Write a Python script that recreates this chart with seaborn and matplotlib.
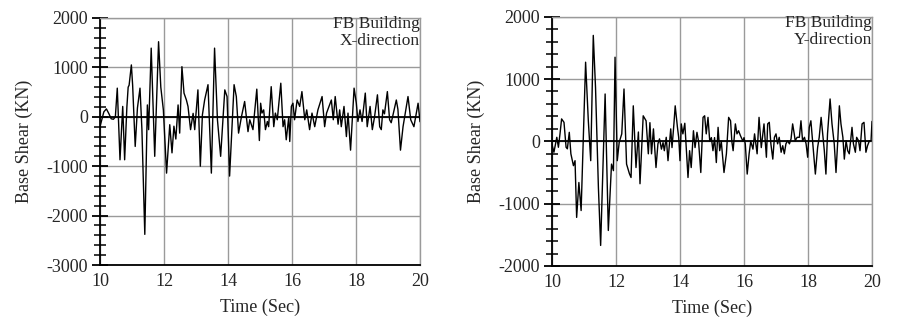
import numpy as np
import pandas as pd
import matplotlib
matplotlib.use("Agg")
import matplotlib.pyplot as plt
from matplotlib.ticker import MultipleLocator
import seaborn as sns

# ---- data ----
x_time = [10.00, 10.12, 10.20, 10.28, 10.35, 10.42, 10.48, 10.54, 10.625, 10.71, 10.77, 10.84, 10.88, 10.91,
          10.98, 11.02, 11.10, 11.17, 11.25, 11.31, 11.40, 11.48, 11.52, 11.60, 11.71, 11.83, 11.90, 11.98,
          12.08, 12.18, 12.25, 12.31, 12.37, 12.44, 12.49, 12.56, 12.625, 12.70, 12.75, 12.83, 12.91, 12.96,
          13.06, 13.135, 13.20, 13.27, 13.375, 13.48, 13.58, 13.67, 13.77, 13.90, 13.97, 14.05, 14.19, 14.26,
          14.33, 14.42, 14.52, 14.625, 14.68, 14.78, 14.90, 14.98, 15.02, 15.06, 15.115, 15.17, 15.23, 15.27,
          15.35, 15.43, 15.48, 15.54, 15.65, 15.72, 15.77, 15.82, 15.90, 15.93, 15.98, 16.03, 16.08, 16.16,
          16.24, 16.31, 16.40, 16.46, 16.55, 16.625, 16.71, 16.81, 16.94, 17.02, 17.08, 17.23, 17.29, 17.35,
          17.44, 17.49, 17.54, 17.625, 17.70, 17.75, 17.83, 17.94, 18.01, 18.06, 18.125, 18.19, 18.29, 18.35,
          18.44, 18.51, 18.58, 18.67, 18.74, 18.79, 18.84, 18.89, 18.98, 19.05, 19.10, 19.15, 19.26, 19.31,
          19.39, 19.47, 19.52, 19.625, 19.71, 19.81, 19.94, 20.00]
x_shear = [-200, 100, 160, 60, -40, -50, 0, 580, -870, 210, -870, 200, 600, 640,
           1050, 640, -600, 180, 580, -260, -2380, 240, -260, 1390, -800, 1520, 600, 140,
           -1140, -160, -730, -190, -450, 240, -330, 1015, 480, 340, 210, -260, 70, -260,
           545, -1000, 40, 340, 650, -1140, 1390, -60, -800, 545, 410, -1200, 650, 410,
           -330, 0, 310, -300, -60, -260, 560, -480, 275, 75, 140, -260, -95, -200,
           610, -200, 75, -60, 680, -200, -60, -465, 0, -500, 210, 275, -60, 340,
           210, 510, -60, 140, -260, 75, -200, 140, 410, -200, 75, 340, -60, 410,
           -150, 140, -200, 210, -400, 75, -675, 580, 275, -95, 140, -95, 480, -200,
           210, -260, 0, 445, -200, -260, 140, 60, 510, -60, -120, 20, 340, 150,
           -675, -200, 0, 410, -60, -200, 275, -100]

y_time = [10.00, 10.06, 10.15, 10.20, 10.25, 10.30, 10.375, 10.44, 10.48, 10.54, 10.59, 10.67, 10.72, 10.77,
          10.84, 10.91, 10.98, 11.05, 11.135, 11.21, 11.29, 11.36, 11.45, 11.52, 11.66, 11.76, 11.86, 11.92,
          11.97, 12.04, 12.10, 12.18, 12.25, 12.33, 12.42, 12.47, 12.54, 12.625, 12.70, 12.75, 12.85, 12.94,
          13.01, 13.06, 13.11, 13.17, 13.25, 13.31, 13.36, 13.42, 13.47, 13.51, 13.57, 13.625, 13.71, 13.75,
          13.81, 13.85, 13.92, 13.96, 14.00, 14.04, 14.09, 14.15, 14.20, 14.25, 14.30, 14.35, 14.42, 14.47,
          14.53, 14.58, 14.65, 14.72, 14.77, 14.82, 14.875, 14.93, 14.98, 15.03, 15.08, 15.135, 15.19, 15.24,
          15.29, 15.375, 15.45, 15.52, 15.58, 15.62, 15.66, 15.73, 15.78, 15.83, 15.89, 15.97, 16.00, 16.04,
          16.10, 16.16, 16.21, 16.28, 16.33, 16.41, 16.47, 16.54, 16.625, 16.70, 16.74, 16.79, 16.84, 16.90,
          16.95, 17.00, 17.05, 17.10, 17.16, 17.21, 17.26, 17.31, 17.36, 17.42, 17.47, 17.52, 17.57, 17.60,
          17.66, 17.73, 17.78, 17.83, 17.89, 17.94, 17.99, 18.04, 18.09, 18.15, 18.23, 18.30, 18.35, 18.41,
          18.46, 18.51, 18.56, 18.61, 18.69, 18.75, 18.82, 18.875, 18.93, 18.98, 19.03, 19.09, 19.135, 19.19,
          19.24, 19.29, 19.375, 19.42, 19.48, 19.52, 19.58, 19.625, 19.69, 19.75, 19.81, 19.86, 19.92, 19.97,
          20.00]
y_shear = [-50, -175, 65, -95, 120, 360, 305, -95, -120, 145, -200, -390, -310, -1220,
           -660, -1110, 65, 1270, 330, -310, 1700, 865, -740, -1670, 760, -1430, -365, -470,
           1350, -310, -15, 120, 840, -365, -520, -580, 570, -420, 150, -680, 410, 330,
           -200, 300, -200, 200, -420, -40, 40, -125, -20, -150, 65, -310, 200, -100,
           280, 570, 225, 60, -310, 280, 120, 290, -150, -580, -150, -420, 170, -100,
           145, 0, -500, 385, 410, 120, 385, 0, 60, -150, 60, -340, 225, -150,
           0, -500, -200, 385, 330, 0, -150, 280, 120, 170, 90, 0, 60, -40,
           -525, -200, 0, -125, 120, -200, 385, -100, 280, -255, 280, 305, -40, -285,
           65, 120, -40, 65, -175, -70, -200, -40, 10, -40, 40, 280, 120, 10,
           65, 65, 330, 10, 65, -40, -255, 225, 330, -40, -525, -100, 65, 385,
           120, -150, -525, 120, 680, 280, -40, -500, 10, 570, 280, 65, -285, 10,
           -150, -200, 225, -40, -175, 65, 10, -150, 280, 305, -175, -70, 10, 10,
           320]

panel_labels = ["FB Building\nX-direction", "FB Building\nY-direction"]
x_ticks = [10, 12, 14, 16, 18, 20]
left_yticks = [-3000, -2000, -1000, 0, 1000, 2000]
right_yticks = [-2000, -1000, 0, 1000, 2000]

sns.set_theme(style="white")
plt.rcParams["font.family"] = ["Liberation Serif", "DejaVu Serif"]
plt.rcParams["axes.unicode_minus"] = False

fig = plt.figure(figsize=(8.98, 3.20), dpi=100)
ax1 = fig.add_axes([100 / 898, 1 - 265 / 320, 320 / 898, 247 / 320])
ax2 = fig.add_axes([552 / 898, 1 - 266 / 320, 320 / 898, 249.3 / 320])

dfx = pd.DataFrame({"Time": x_time, "Shear": x_shear})
dfy = pd.DataFrame({"Time": y_time, "Shear": y_shear})

grid_c = "#9a9a9a"
for ax, df, yt, lab in [(ax1, dfx, left_yticks, panel_labels[0]),
                        (ax2, dfy, right_yticks, panel_labels[1])]:
    ax.set_xlim(10, 20)
    ax.set_ylim(yt[0], yt[-1])
    ax.set_xticks(x_ticks)
    ax.set_yticks(yt)
    ax.yaxis.set_minor_locator(MultipleLocator(200))
    ax.grid(True, which="major", color=grid_c, linewidth=1.0)
    ax.set_axisbelow(True)
    ax.axhline(0, color="black", linewidth=1.3, zorder=2)
    sns.lineplot(data=df, x="Time", y="Shear", ax=ax, color="black",
                 linewidth=1.0, zorder=3, estimator=None, sort=False)
    for s in ["top", "right"]:
        ax.spines[s].set_color(grid_c)
        ax.spines[s].set_linewidth(1.0)
    for s in ["left", "bottom"]:
        ax.spines[s].set_color("black")
        ax.spines[s].set_linewidth(1.3)
    ax.tick_params(axis="y", which="major", direction="inout", length=11, width=1.3,
                   color="black", labelsize=13, pad=3, left=True)
    ax.tick_params(axis="y", which="minor", direction="inout", length=9, width=1.1,
                   color="black", left=True)
    ax.tick_params(axis="x", which="both", length=0, labelsize=13, pad=6)
    ax.set_xlabel("Time (Sec)", fontsize=13, labelpad=6)
    ax.set_ylabel("Base Shear (KN)", fontsize=13, labelpad=10)
    ax.text(1.0, 1.008, lab, transform=ax.transAxes, ha="right", va="top",
            multialignment="right", fontsize=12.5, linespacing=1.1, zorder=5)

fig.savefig("out.png", dpi=100, facecolor="white")
